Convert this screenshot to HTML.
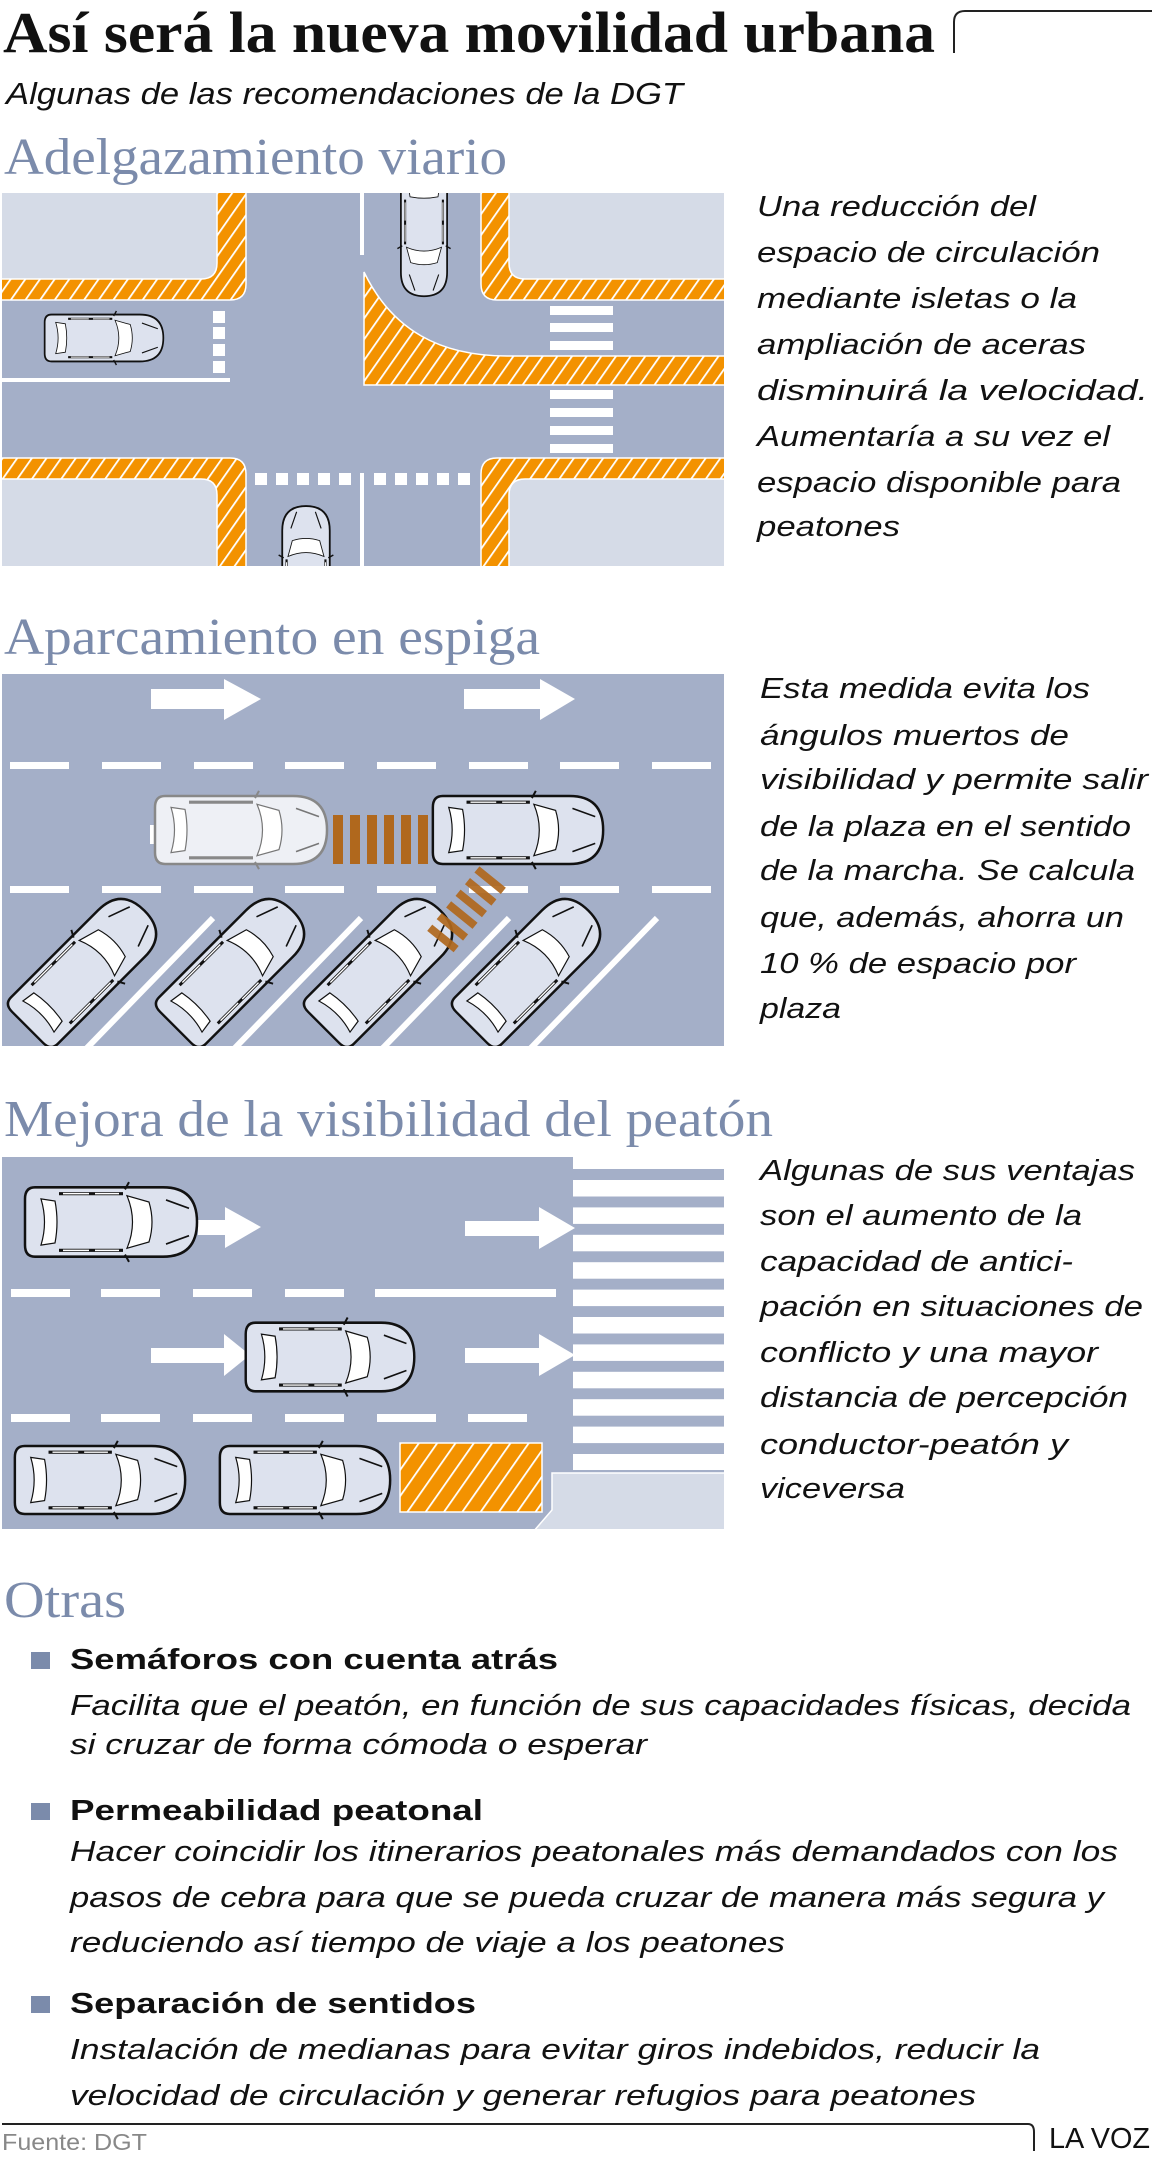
<!DOCTYPE html>
<html><head><meta charset="utf-8">
<style>
html,body{margin:0;padding:0;background:#fff;}
svg{display:block;}
.it{font-family:"Liberation Sans",sans-serif;font-style:italic;font-size:29px;fill:#111;}
.hd{font-family:"Liberation Serif",serif;font-size:52px;fill:#7b8bab;}
.bd{font-family:"Liberation Sans",sans-serif;font-weight:bold;font-size:29px;fill:#111;}
</style></head>
<body>
<svg width="1152" height="2160" viewBox="0 0 1152 2160" xmlns="http://www.w3.org/2000/svg">
<defs>
  <pattern id="h1" patternUnits="userSpaceOnUse" width="12" height="12" patternTransform="rotate(35)">
    <rect width="12" height="12" fill="#f39200"/>
    <rect x="0" y="0" width="1.8" height="12" fill="#fff"/>
  </pattern>
  <pattern id="h2" patternUnits="userSpaceOnUse" width="15" height="15" patternTransform="rotate(35)">
    <rect width="15" height="15" fill="#f39200"/>
    <rect x="0" y="0" width="1.8" height="15" fill="#fff"/>
  </pattern>
  <g id="car">
    <path d="M-76,-33 Q-86,-33 -86,-22 L-86,22 Q-86,33 -76,33 L52,33 Q86,33 86,0 Q86,-33 52,-33 Z" fill="#dde2ee" stroke="#111" stroke-width="2.5"/>
    <path d="M-70,-22 Q-63,0 -70,22 L-56,20 Q-52,0 -56,-20 Z" fill="#fff" stroke="#111" stroke-width="1.2"/>
    <path d="M16,-25 Q27,0 16,25 L38,19 Q44,0 38,-19 Z" fill="#fff" stroke="#111" stroke-width="1.2"/>
    <path d="M-52,-27 L12,-27 M-52,27 L12,27" stroke="#111" stroke-width="3"/>
    <path d="M-48,-27 L-22,-27 M-16,-27 L8,-27 M-48,27 L-22,27 M-16,27 L8,27" stroke="#fff" stroke-width="1.4"/>
    <path d="M55,-21 L78,-13 M55,21 L78,13" stroke="#111" stroke-width="1.6" fill="none"/>
    <path d="M14,-31 L18,-38 M14,31 L18,38" stroke="#111" stroke-width="2"/>
  </g>
  <g id="carL">
    <path d="M-76,-33 Q-86,-33 -86,-22 L-86,22 Q-86,33 -76,33 L52,33 Q86,33 86,0 Q86,-33 52,-33 Z" fill="#eef0f5" stroke="#888" stroke-width="2.5"/>
    <path d="M-70,-22 Q-63,0 -70,22 L-56,20 Q-52,0 -56,-20 Z" fill="#fff" stroke="#777" stroke-width="1.2"/>
    <path d="M16,-25 Q27,0 16,25 L38,19 Q44,0 38,-19 Z" fill="#fff" stroke="#777" stroke-width="1.2"/>
    <path d="M-52,-27 L12,-27 M-52,27 L12,27" stroke="#888" stroke-width="3"/>
    <path d="M55,-21 L78,-13 M55,21 L78,13" stroke="#777" stroke-width="1.6" fill="none"/>
    <path d="M14,-31 L18,-38 M14,31 L18,38" stroke="#888" stroke-width="2"/>
  </g>
  <clipPath id="c1"><rect x="2" y="193" width="722" height="373"/></clipPath>
  <clipPath id="c2"><rect x="2" y="674" width="722" height="372"/></clipPath>
  <clipPath id="c3"><rect x="2" y="1157" width="722" height="372"/></clipPath>
</defs>

<!-- Title -->
<text x="3" y="52" font-family="Liberation Serif, serif" font-weight="bold" font-size="58" fill="#111" textLength="932" lengthAdjust="spacingAndGlyphs">Así será la nueva movilidad urbana</text>
<path d="M954,53 L954,22 Q954,11 965,11 L1152,11" fill="none" stroke="#222" stroke-width="2"/>
<text x="6" y="104" class="it" textLength="677" lengthAdjust="spacingAndGlyphs" style="font-size:31px">Algunas de las recomendaciones de la DGT</text>

<!-- Section 1 -->
<text x="4" y="174" class="hd" textLength="503" lengthAdjust="spacingAndGlyphs">Adelgazamiento viario</text>
<g clip-path="url(#c1)">
  <rect x="2" y="193" width="722" height="373" fill="#a4afc8"/>
  <path d="M0,190 L246,190 L246,284 Q246,300 230,300 L0,300 Z" fill="url(#h1)" stroke="#fff" stroke-width="1.5"/>
  <path d="M0,190 L217,190 L217,263 Q217,279 201,279 L0,279 Z" fill="#d5dbe7" stroke="#fff" stroke-width="1.5"/>
  <path d="M730,190 L481,190 L481,284 Q481,300 497,300 L730,300 Z" fill="url(#h1)" stroke="#fff" stroke-width="1.5"/>
  <path d="M730,190 L509,190 L509,263 Q509,279 525,279 L730,279 Z" fill="#d5dbe7" stroke="#fff" stroke-width="1.5"/>
  <path d="M0,570 L246,570 L246,474 Q246,458 230,458 L0,458 Z" fill="url(#h1)" stroke="#fff" stroke-width="1.5"/>
  <path d="M0,570 L217,570 L217,495 Q217,479 201,479 L0,479 Z" fill="#d5dbe7" stroke="#fff" stroke-width="1.5"/>
  <path d="M730,570 L481,570 L481,474 Q481,458 497,458 L730,458 Z" fill="url(#h1)" stroke="#fff" stroke-width="1.5"/>
  <path d="M730,570 L509,570 L509,495 Q509,479 525,479 L730,479 Z" fill="#d5dbe7" stroke="#fff" stroke-width="1.5"/>
  <path d="M364,272 C392,330 440,356 507,356 L730,356 L730,385 L364,385 Z" fill="url(#h1)" stroke="#fff" stroke-width="1.5"/>
  <rect x="360" y="190" width="4" height="65" fill="#fff"/>
  <rect x="360" y="473" width="4" height="100" fill="#fff"/>
  <rect x="213" y="311" width="12" height="12" fill="#fff"/>
  <rect x="213" y="327" width="12" height="12" fill="#fff"/>
  <rect x="213" y="344" width="12" height="12" fill="#fff"/>
  <rect x="213" y="361" width="12" height="12" fill="#fff"/>
  <rect x="0" y="378" width="230" height="4" fill="#fff"/>
  <g fill="#fff">
    <rect x="550" y="306" width="63" height="9"/><rect x="550" y="323" width="63" height="9"/><rect x="550" y="341" width="63" height="9"/>
    <rect x="550" y="390" width="63" height="9"/><rect x="550" y="408" width="63" height="9"/><rect x="550" y="426" width="63" height="9"/><rect x="550" y="444" width="63" height="9"/>
    <rect x="255" y="473" width="12" height="12"/><rect x="276" y="473" width="12" height="12"/><rect x="297" y="473" width="12" height="12"/><rect x="318" y="473" width="12" height="12"/><rect x="339" y="473" width="12" height="12"/>
    <rect x="374" y="473" width="12" height="12"/><rect x="395" y="473" width="12" height="12"/><rect x="416" y="473" width="12" height="12"/><rect x="437" y="473" width="12" height="12"/><rect x="458" y="473" width="12" height="12"/>
  </g>
  <use href="#car" transform="translate(104,338) scale(0.69,0.71)"/>
  <use href="#car" transform="translate(424,236) rotate(90) scale(0.7)"/>
  <use href="#car" transform="translate(306,568) rotate(-90) scale(0.72)"/>
</g>
<g class="it">
<text x="757" y="216" textLength="279" lengthAdjust="spacingAndGlyphs">Una reducción del</text>
<text x="757" y="262" textLength="343" lengthAdjust="spacingAndGlyphs">espacio de circulación</text>
<text x="757" y="308" textLength="320" lengthAdjust="spacingAndGlyphs">mediante isletas o la</text>
<text x="757" y="354" textLength="329" lengthAdjust="spacingAndGlyphs">ampliación de aceras</text>
<text x="757" y="400" textLength="391" lengthAdjust="spacingAndGlyphs">disminuirá la velocidad.</text>
<text x="757" y="446" textLength="353" lengthAdjust="spacingAndGlyphs">Aumentaría a su vez el</text>
<text x="757" y="492" textLength="364" lengthAdjust="spacingAndGlyphs">espacio disponible para</text>
<text x="757" y="536" textLength="143" lengthAdjust="spacingAndGlyphs">peatones</text>
</g>

<!-- Section 2 -->
<text x="4" y="654" class="hd" textLength="536" lengthAdjust="spacingAndGlyphs">Aparcamiento en espiga</text>
<g clip-path="url(#c2)">
  <rect x="2" y="674" width="722" height="372" fill="#a4afc8"/>
  <g fill="#fff">
    <path d="M151,689 L224,689 L224,679 L261,699 L224,720 L224,709 L151,709 Z"/>
    <path d="M464,689 L540,689 L540,679 L575,699 L540,720 L540,709 L464,709 Z"/>
    <rect x="10" y="762" width="59" height="7"/><rect x="102" y="762" width="59" height="7"/><rect x="194" y="762" width="59" height="7"/><rect x="285" y="762" width="59" height="7"/><rect x="377" y="762" width="59" height="7"/><rect x="469" y="762" width="59" height="7"/><rect x="560" y="762" width="59" height="7"/><rect x="652" y="762" width="59" height="7"/>
    <rect x="10" y="886" width="59" height="7"/><rect x="102" y="886" width="59" height="7"/><rect x="194" y="886" width="59" height="7"/><rect x="285" y="886" width="59" height="7"/><rect x="377" y="886" width="59" height="7"/><rect x="469" y="886" width="59" height="7"/><rect x="560" y="886" width="59" height="7"/><rect x="652" y="886" width="59" height="7"/>
  </g>
  <g stroke="#fff" stroke-width="6">
    <line x1="213" y1="918" x2="85" y2="1050"/>
    <line x1="361" y1="918" x2="233" y2="1050"/>
    <line x1="509" y1="918" x2="381" y2="1050"/>
    <line x1="657" y1="918" x2="529" y2="1050"/>
  </g>
  <use href="#car" transform="translate(86,969) rotate(-45) scale(0.96,1.0)"/>
  <use href="#car" transform="translate(234,969) rotate(-45) scale(0.96,1.0)"/>
  <use href="#car" transform="translate(382,969) rotate(-45) scale(0.96,1.0)"/>
  <use href="#car" transform="translate(530,969) rotate(-45) scale(0.96,1.0)"/>
  <rect x="150" y="825" width="8" height="19" fill="#fff"/>
  <use href="#carL" transform="translate(241,830) scale(1.0,1.03)"/>
  <use href="#car" transform="translate(518,830) scale(0.99,1.03)"/>
  <g fill="#b0681d">
    <rect x="333" y="815" width="10" height="49"/><rect x="350" y="815" width="10" height="49"/><rect x="367" y="815" width="10" height="49"/><rect x="384" y="815" width="10" height="49"/><rect x="401" y="815" width="10" height="49"/><rect x="418" y="815" width="10" height="49"/>
  </g>
  <g fill="#b0681d" opacity="0.92" transform="translate(470,905) rotate(129)">
    <rect x="-36" y="-17" width="8" height="34"/><rect x="-21" y="-17" width="8" height="34"/><rect x="-6" y="-17" width="8" height="34"/><rect x="9" y="-17" width="8" height="34"/><rect x="24" y="-17" width="8" height="34"/><rect x="39" y="-17" width="8" height="34"/>
  </g>
</g>
<g class="it">
<text x="760" y="698" textLength="330" lengthAdjust="spacingAndGlyphs">Esta medida evita los</text>
<text x="760" y="745" textLength="309" lengthAdjust="spacingAndGlyphs">ángulos muertos de</text>
<text x="760" y="789" textLength="388" lengthAdjust="spacingAndGlyphs">visibilidad y permite salir</text>
<text x="760" y="836" textLength="371" lengthAdjust="spacingAndGlyphs">de la plaza en el sentido</text>
<text x="760" y="880" textLength="375" lengthAdjust="spacingAndGlyphs">de la marcha. Se calcula</text>
<text x="760" y="927" textLength="364" lengthAdjust="spacingAndGlyphs">que, además, ahorra un</text>
<text x="760" y="973" textLength="316" lengthAdjust="spacingAndGlyphs">10 % de espacio por</text>
<text x="760" y="1018" textLength="81" lengthAdjust="spacingAndGlyphs">plaza</text>
</g>

<!-- Section 3 -->
<text x="4" y="1136" class="hd" textLength="769" lengthAdjust="spacingAndGlyphs">Mejora de la visibilidad del peatón</text>
<g clip-path="url(#c3)">
  <rect x="2" y="1157" width="722" height="372" fill="#a4afc8"/>
  <g fill="#fff">
    <rect x="573" y="1157" width="151" height="12"/>
    <rect x="573" y="1180" width="151" height="16.5"/><rect x="573" y="1207.4" width="151" height="16.5"/><rect x="573" y="1234.8" width="151" height="16.5"/><rect x="573" y="1262.2" width="151" height="16.5"/><rect x="573" y="1289.6" width="151" height="16.5"/><rect x="573" y="1317" width="151" height="16.5"/><rect x="573" y="1344.4" width="151" height="16.5"/><rect x="573" y="1371.8" width="151" height="16.5"/><rect x="573" y="1399.2" width="151" height="16.5"/><rect x="573" y="1426.6" width="151" height="16.5"/><rect x="573" y="1454" width="151" height="16"/>
    <rect x="11" y="1289" width="59" height="8"/><rect x="101" y="1289" width="59" height="8"/><rect x="193" y="1289" width="59" height="8"/><rect x="285" y="1289" width="59" height="8"/><rect x="375" y="1289" width="181" height="8"/>
    <rect x="11" y="1414" width="59" height="8"/><rect x="101" y="1414" width="59" height="8"/><rect x="193" y="1414" width="59" height="8"/><rect x="285" y="1414" width="59" height="8"/><rect x="377" y="1414" width="59" height="8"/><rect x="468" y="1414" width="59" height="8"/>
    <path d="M198,1220 L225,1220 L225,1207 L261,1227 L225,1248 L225,1235 L198,1235 Z"/>
    <path d="M465,1221 L539,1221 L539,1207 L575,1228 L539,1249 L539,1236 L465,1236 Z"/>
    <path d="M151,1348 L224,1348 L224,1334 L250,1355 L224,1376 L224,1363 L151,1363 Z"/>
    <path d="M465,1348 L539,1348 L539,1334 L575,1355 L539,1376 L539,1363 L465,1363 Z"/>
  </g>
  <path d="M552,1473 L726,1473 L726,1532 L533,1532 L552,1510 Z" fill="#d5dbe7" stroke="#fff" stroke-width="1.5"/>
  <rect x="400" y="1443" width="142" height="69" fill="url(#h2)" stroke="#fff" stroke-width="1.5"/>
  <use href="#car" transform="translate(111,1222) scale(1.0,1.05)"/>
  <use href="#car" transform="translate(330,1357) scale(0.98,1.04)"/>
  <use href="#car" transform="translate(100,1480) scale(0.99,1.03)"/>
  <use href="#car" transform="translate(305,1480) scale(0.99,1.03)"/>
</g>
<g class="it">
<text x="760" y="1180" textLength="375" lengthAdjust="spacingAndGlyphs">Algunas de sus ventajas</text>
<text x="760" y="1225" textLength="322" lengthAdjust="spacingAndGlyphs">son el aumento de la</text>
<text x="760" y="1271" textLength="313" lengthAdjust="spacingAndGlyphs">capacidad de antici-</text>
<text x="760" y="1316" textLength="383" lengthAdjust="spacingAndGlyphs">pación en situaciones de</text>
<text x="760" y="1362" textLength="338" lengthAdjust="spacingAndGlyphs">conflicto y una mayor</text>
<text x="760" y="1407" textLength="368" lengthAdjust="spacingAndGlyphs">distancia de percepción</text>
<text x="760" y="1454" textLength="308" lengthAdjust="spacingAndGlyphs">conductor-peatón y</text>
<text x="760" y="1498" textLength="145" lengthAdjust="spacingAndGlyphs">viceversa</text>
</g>

<!-- Otras -->
<text x="4" y="1617" class="hd" textLength="122" lengthAdjust="spacingAndGlyphs">Otras</text>
<g fill="#7b8bab">
  <rect x="31" y="1652" width="19" height="17"/>
  <rect x="31" y="1803" width="19" height="17"/>
  <rect x="31" y="1996" width="19" height="17"/>
</g>
<text x="70" y="1669" class="bd" textLength="488" lengthAdjust="spacingAndGlyphs">Semáforos con cuenta atrás</text>
<g class="it">
<text x="70" y="1715" textLength="1061" lengthAdjust="spacingAndGlyphs">Facilita que el peatón, en función de sus capacidades físicas, decida</text>
<text x="70" y="1754" textLength="577" lengthAdjust="spacingAndGlyphs">si cruzar de forma cómoda o esperar</text>
</g>
<text x="70" y="1820" class="bd" textLength="413" lengthAdjust="spacingAndGlyphs">Permeabilidad peatonal</text>
<g class="it">
<text x="70" y="1861" textLength="1048" lengthAdjust="spacingAndGlyphs">Hacer coincidir los itinerarios peatonales más demandados con los</text>
<text x="70" y="1907" textLength="1034" lengthAdjust="spacingAndGlyphs">pasos de cebra para que se pueda cruzar de manera más segura y</text>
<text x="70" y="1952" textLength="715" lengthAdjust="spacingAndGlyphs">reduciendo así tiempo de viaje a los peatones</text>
</g>
<text x="70" y="2013" class="bd" textLength="406" lengthAdjust="spacingAndGlyphs">Separación de sentidos</text>
<g class="it">
<text x="70" y="2059" textLength="970" lengthAdjust="spacingAndGlyphs">Instalación de medianas para evitar giros indebidos, reducir la</text>
<text x="70" y="2105" textLength="906" lengthAdjust="spacingAndGlyphs">velocidad de circulación y generar refugios para peatones</text>
</g>

<!-- Footer -->
<path d="M2,2124 L1028,2124 Q1034,2124 1034,2132 L1034,2151" fill="none" stroke="#222" stroke-width="2"/>
<text x="2" y="2150" font-family="Liberation Sans, sans-serif" font-size="23" fill="#888" textLength="145" lengthAdjust="spacingAndGlyphs">Fuente: DGT</text>
<text x="1049" y="2148" font-family="Liberation Sans, sans-serif" font-size="29" fill="#111" textLength="101" lengthAdjust="spacingAndGlyphs">LA VOZ</text>
</svg>
</body></html>
